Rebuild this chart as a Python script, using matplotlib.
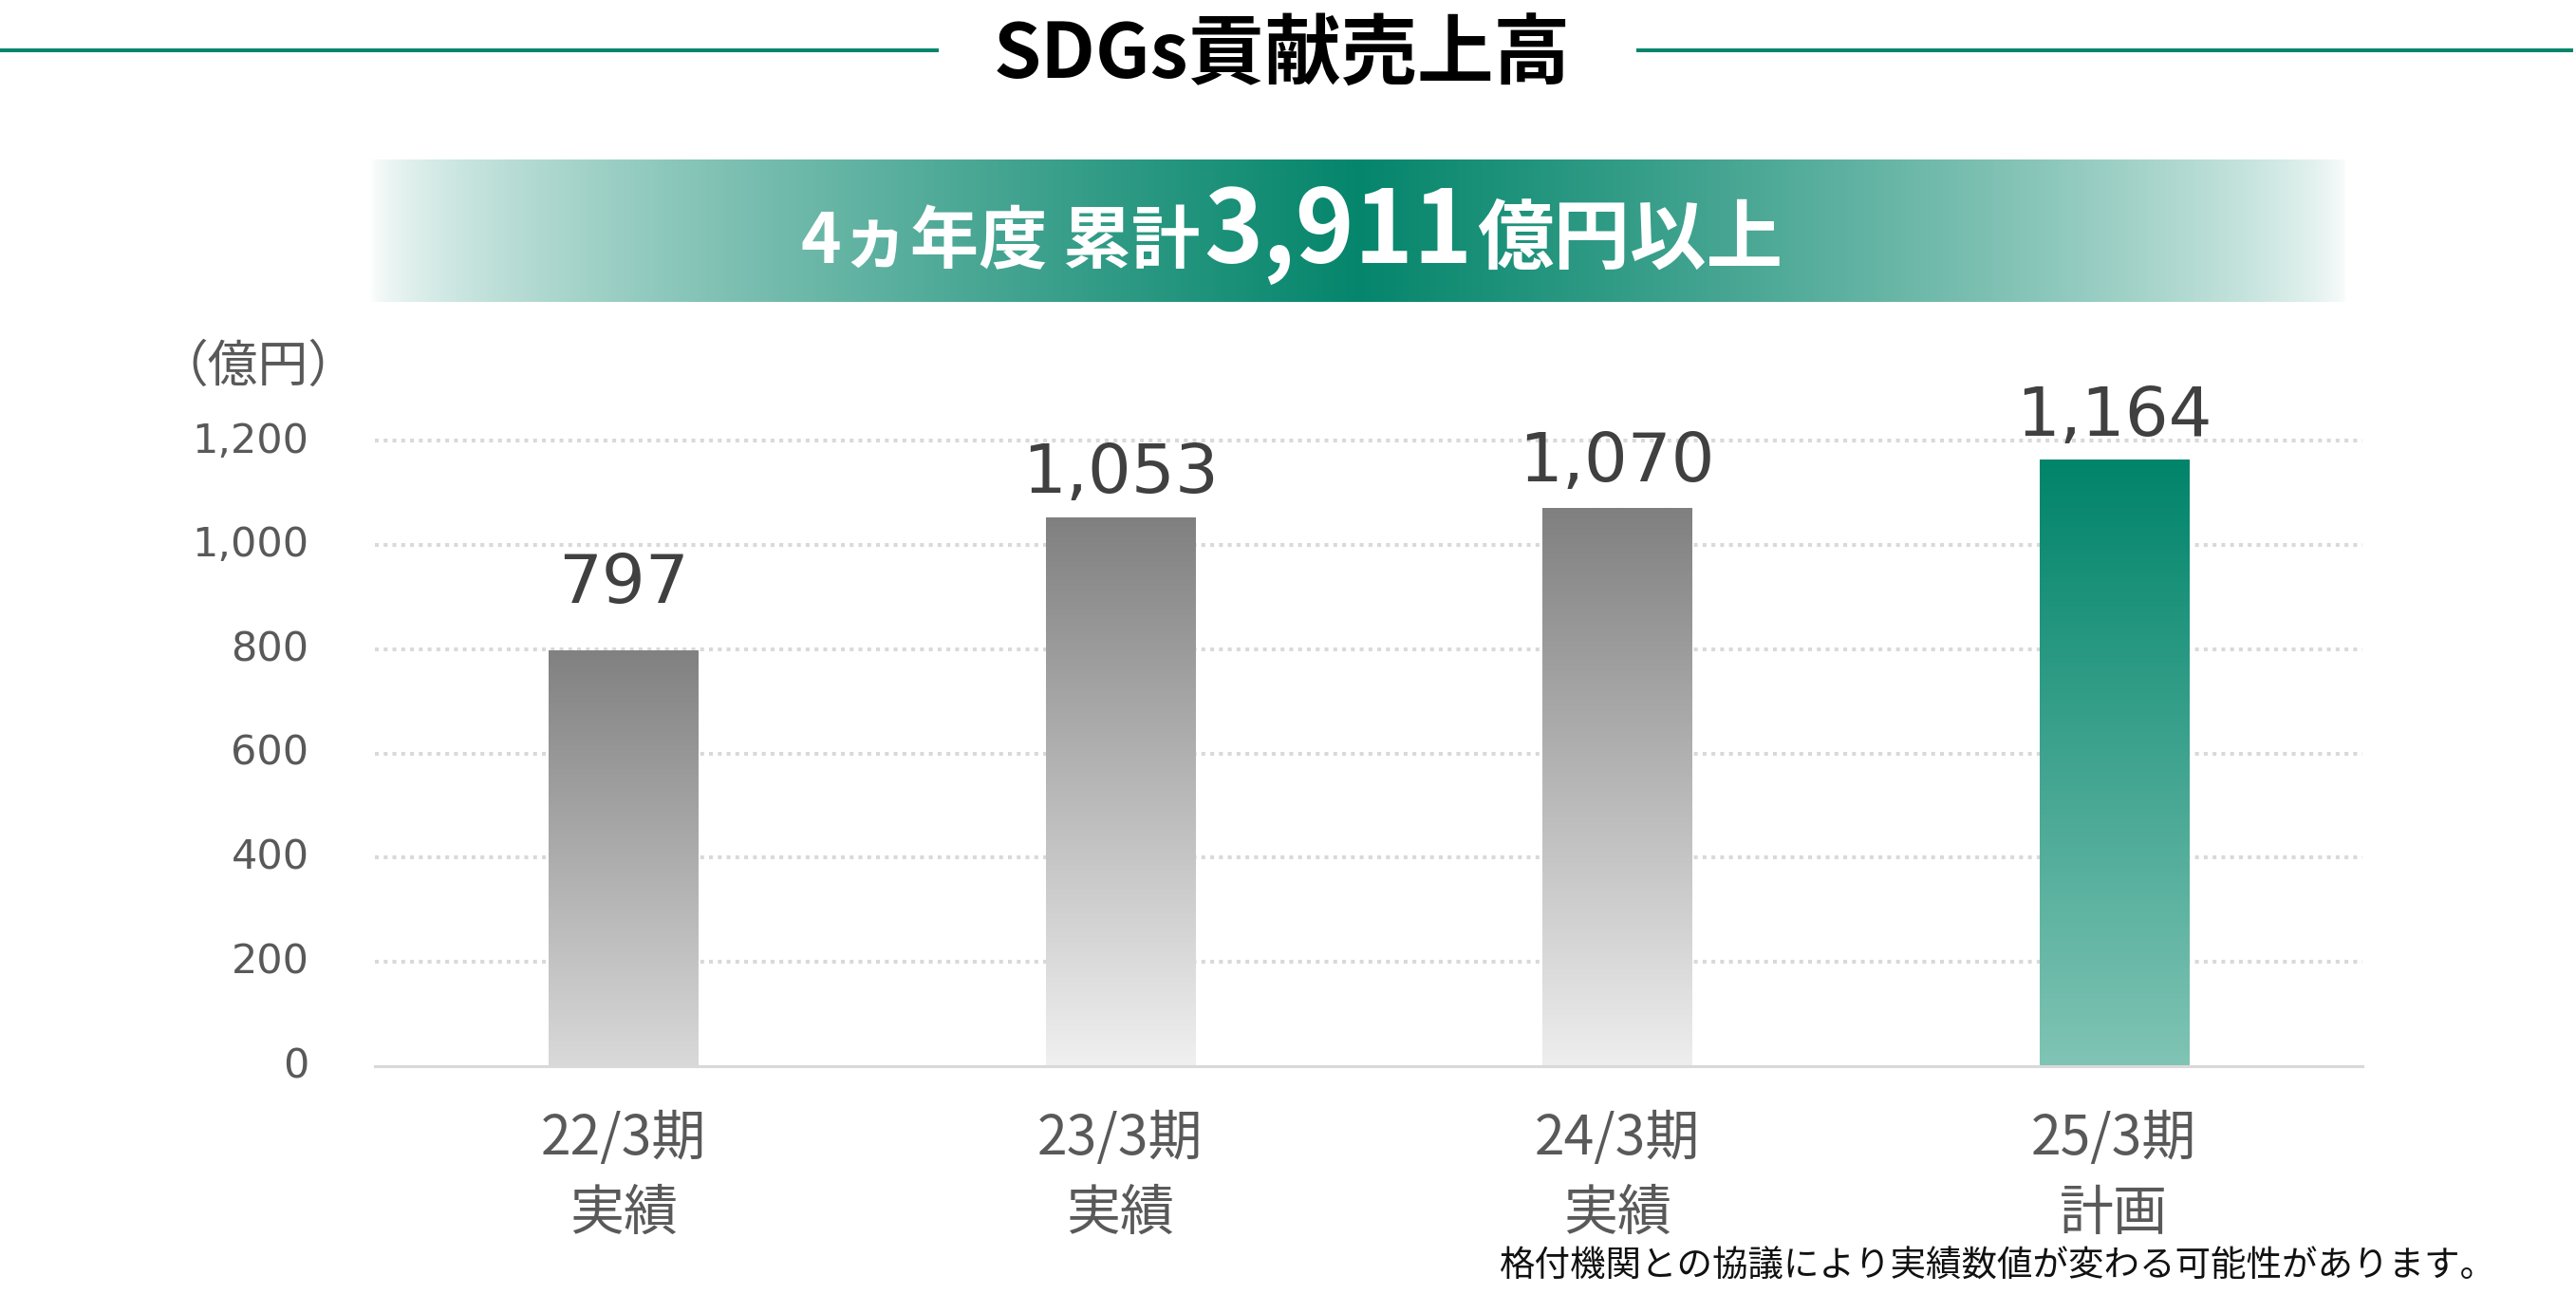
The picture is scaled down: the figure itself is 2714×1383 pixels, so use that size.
import matplotlib
matplotlib.use("Agg")
import matplotlib.pyplot as plt
import numpy as np
from matplotlib.lines import Line2D
from matplotlib.colors import to_rgb
from matplotlib.transforms import ScaledTranslation

# ---------------- data ----------------
periods = ["22/3期", "23/3期", "24/3期", "25/3期"]
kinds = ["実績", "実績", "実績", "計画"]
values = [797, 1053, 1070, 1164]
yticks = [0, 200, 400, 600, 800, 1000, 1200]
title = "SDGs貢献売上高"
banner_prefix = "4ヵ年度 累計"
banner_number = "3,911"
banner_suffix = "億円以上"
unit_label = "（億円）"
footnote = "格付機関との協議により実績数値が変わる可能性があります。"

# ---------------- style ----------------
W, H = 2714, 1383
GREEN = "#05866C"
CJK = ["Noto Sans CJK JP", "DejaVu Sans"]
plt.rcParams["font.family"] = ["DejaVu Sans", "Noto Sans CJK JP"]

bar_top_colors = ["#818181", "#808080", "#808080", "#00846A"]
bar_bot_colors = ["#d9d9d9", "#f0f0f0", "#eeeeee", "#80c4b5"]
label_pad_px = [50, 26, 28, 25]

fig = plt.figure(figsize=(W / 100, H / 100), dpi=100)
fig.patch.set_facecolor("white")

ax = fig.add_axes([395 / W, 260 / H, (2489 - 395) / W, (919 - 260) / H])
x = np.arange(len(values))
bw = 0.30

ax.set_xlim(-0.5, len(values) - 0.5)
ax.set_ylim(0, 1200)

# grid lines
for t in yticks[1:]:
    ax.axhline(t, color="#d9d9d9", lw=2.9, linestyle=(0, (1, 1.3)),
               dash_capstyle="butt", zorder=1, clip_on=False)
ax.axhline(0, color="#d9d9d9", lw=2.2, zorder=4, clip_on=False)

# bars with vertical gradients
bars = ax.bar(x, values, width=bw, color="none", edgecolor="none", zorder=2)
for i, b in enumerate(bars):
    top = np.array(to_rgb(bar_top_colors[i]))
    bot = np.array(to_rgb(bar_bot_colors[i]))
    t = np.linspace(0, 1, 256)[:, None]
    grad = (top[None, :] * (1 - t) + bot[None, :] * t)[:, None, :]
    x0 = b.get_x()
    im = ax.imshow(grad, extent=[x0, x0 + b.get_width(), 0, b.get_height()],
                   aspect="auto", origin="upper", zorder=3, interpolation="bilinear")
    im.set_clip_path(b)
ax.set_xlim(-0.5, len(values) - 0.5)
ax.set_ylim(0, 1200)

# value labels
for i, v in enumerate(values):
    ax.annotate(f"{v:,}", xy=(x[i], v), xytext=(0, label_pad_px[i] * 0.72),
                textcoords="offset points", ha="center", va="baseline",
                fontsize=52, color="#404040", family="DejaVu Sans",
                annotation_clip=False, zorder=5)

for s in ax.spines.values():
    s.set_visible(False)

ax.set_yticks(yticks)
ax.set_yticklabels([f"{t:,}" for t in yticks], fontsize=31, color="#595959",
                   family="DejaVu Sans")
ax.tick_params(axis="y", length=0, pad=50)
shift = ScaledTranslation(0, 4 / 100, fig.dpi_scale_trans)
for lbl in ax.get_yticklabels():
    lbl.set_transform(lbl.get_transform() + shift)

ax.set_xticks(x)
ax.set_xticklabels([f"{p}\n{k}" for p, k in zip(periods, kinds)], fontsize=41,
                   color="#595959", family=CJK, linespacing=1.45)
ax.tick_params(axis="x", length=0, pad=34)

# unit label
fig.text(272 / W, 1 - 386 / H, unit_label, ha="center", va="center",
         fontsize=38, color="#595959", family=CJK)

# footnote
fig.text(1580 / W, 1 - 1334 / H, footnote, ha="left", va="center",
         fontsize=27, color="#111111", family=CJK)

# title and side lines
fig.text(1351 / W, 1 - 58 / H, title, ha="center", va="center",
         fontsize=58, fontweight="bold", color="black", family=CJK)
yl = 1 - 53 / H
fig.add_artist(Line2D([0, 987 / W], [yl, yl], transform=fig.transFigure,
                      color=GREEN, lw=2.9))
fig.add_artist(Line2D([1726 / W, 2709 / W], [yl, yl], transform=fig.transFigure,
                      color=GREEN, lw=2.9))

# banner with horizontal gradient
bax = fig.add_axes([389 / W, 1 - 318 / H, (2474 - 389) / W, 150 / H])
g = np.array(to_rgb(GREEN))
u = np.linspace(0, 1, 1024)
tt = 1 - np.abs(u - 0.5) * 2
tt = np.clip(tt, 0, 1) ** 0.65
row = (np.ones(3)[None, :] * (1 - tt[:, None]) + g[None, :] * tt[:, None])
bax.imshow(row[None, :, :], aspect="auto", extent=[0, 1, 0, 1],
           interpolation="bilinear")
bax.set_axis_off()

# banner text in three parts, measured and centered
renderer = fig.canvas.get_renderer()
base_y = 1 - 277 / H
parts = [(banner_prefix, 52), (banner_number, 76), (banner_suffix, 58)]
texts = []
for s, fs in parts:
    t = fig.text(0, base_y, s, ha="left", va="baseline", fontsize=fs,
                 fontweight="bold", color="white", family=CJK, zorder=10)
    texts.append(t)
widths = [t.get_window_extent(renderer).width for t in texts]
gap = 4
total = sum(widths) + gap * (len(widths) - 1)
cx = 1361
xpos = cx - total / 2
for t, w in zip(texts, widths):
    t.set_x(xpos / W)
    xpos += w + gap

fig.savefig("out.png", dpi=100, facecolor="white")
